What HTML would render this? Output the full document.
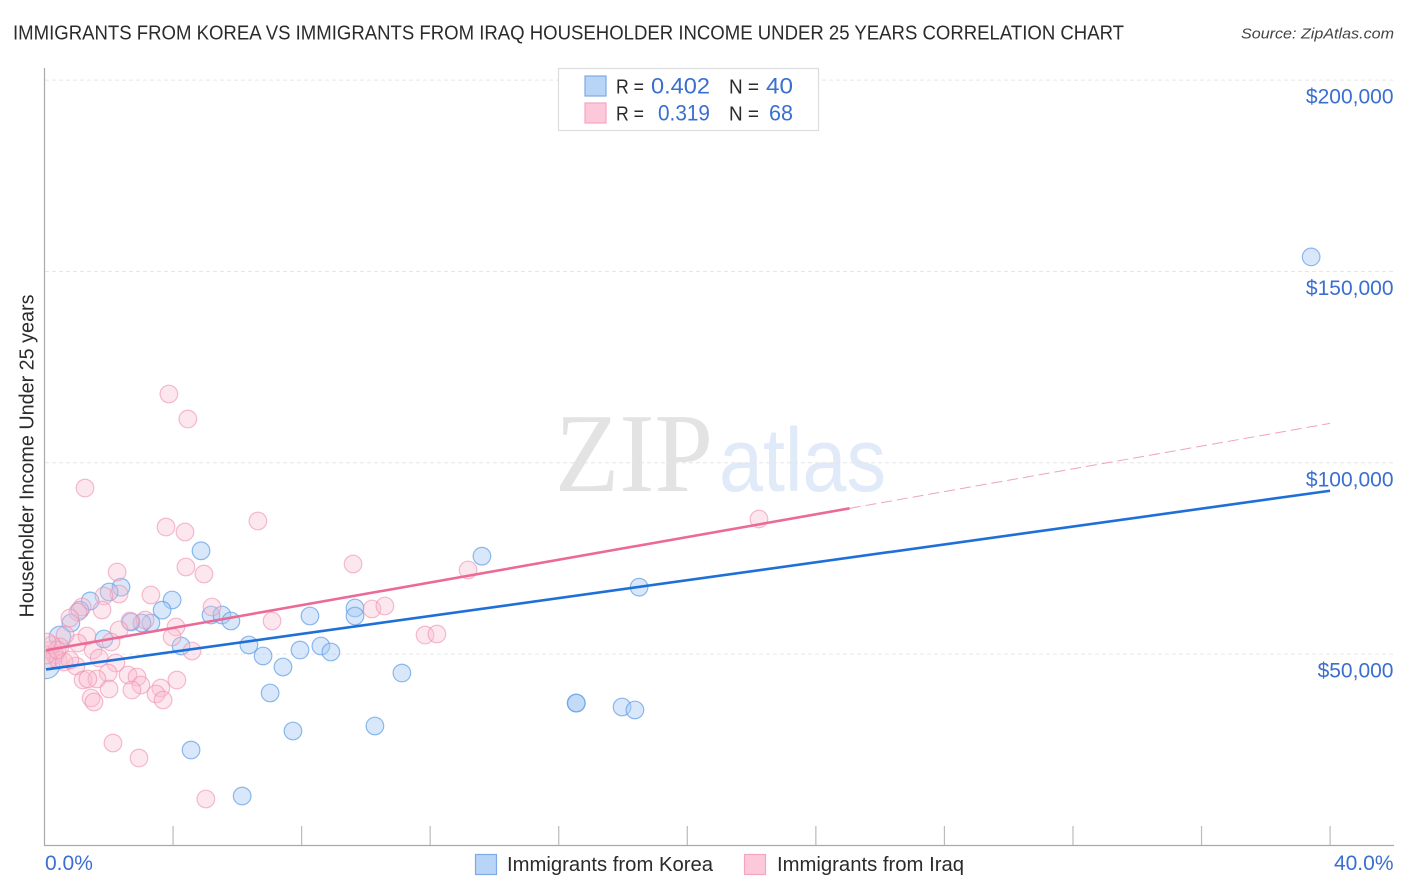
<!DOCTYPE html>
<html lang="en">
<head>
<meta charset="utf-8">
<title>Immigrants from Korea vs Immigrants from Iraq Householder Income Under 25 Years Correlation Chart</title>
<style>
html,body{margin:0;padding:0;background:#fff;width:1406px;height:892px;overflow:hidden}
svg{display:block;font-family:"Liberation Sans",sans-serif}
</style>
</head>
<body>
<svg id="chart" xmlns="http://www.w3.org/2000/svg" width="1406" height="892" viewBox="0 0 1406 892">
<defs><clipPath id="plot-clip"><rect x="45" y="60" width="1350" height="785"/></clipPath></defs>
<rect x="0" y="0" width="1406" height="892" fill="#ffffff"/>
<text x="13" y="39.5" font-size="20" fill="#2b2b2b" textLength="1111" lengthAdjust="spacingAndGlyphs">IMMIGRANTS FROM KOREA VS IMMIGRANTS FROM IRAQ HOUSEHOLDER INCOME UNDER 25 YEARS CORRELATION CHART</text>
<text x="1241" y="38.5" font-size="15" font-style="italic" fill="#444" textLength="153" lengthAdjust="spacingAndGlyphs">Source: ZipAtlas.com</text>
<text x="555" y="491" font-family="'Liberation Serif',serif" font-size="112" fill="#e3e3e3" textLength="158" lengthAdjust="spacingAndGlyphs">ZIP</text>
<text x="719" y="491" font-size="90" fill="#e0eaf8" textLength="167" lengthAdjust="spacingAndGlyphs">atlas</text>
<g id="grid"></g>
<g id="axes"></g>
<g id="marks" clip-path="url(#plot-clip)"></g>
<g id="trends"></g>
<g id="ylabels"></g>
<text transform="translate(33.5,456) rotate(-90)" font-size="20" fill="#2b2b2b" text-anchor="middle" textLength="323" lengthAdjust="spacingAndGlyphs">Householder Income Under 25 years</text>
<text x="45" y="870" font-size="21" fill="#3a6fd0">0.0%</text>
<text x="1393.5" y="870" font-size="21" fill="#3a6fd0" text-anchor="end">40.0%</text>
<g>
<rect x="558.5" y="68.5" width="260" height="62" fill="#ffffff" stroke="#dddddd" stroke-width="1.2"/>
<rect x="585" y="76" width="21" height="20" fill="#b8d4f6" stroke="#7eaae6" stroke-width="1.2"/>
<rect x="585" y="103" width="21" height="20" fill="#fcc8da" stroke="#f4a6c0" stroke-width="1.2"/>
<text x="616" y="93.5" font-size="20" fill="#2b2b2b" textLength="28" lengthAdjust="spacingAndGlyphs">R =</text>
<text x="651" y="93.5" font-size="22" fill="#3a6fd0" textLength="59" lengthAdjust="spacingAndGlyphs">0.402</text>
<text x="729" y="93.5" font-size="20" fill="#2b2b2b" textLength="30" lengthAdjust="spacingAndGlyphs">N =</text>
<text x="766" y="93.5" font-size="22" fill="#3a6fd0" textLength="27" lengthAdjust="spacingAndGlyphs">40</text>
<text x="616" y="120.5" font-size="20" fill="#2b2b2b" textLength="28" lengthAdjust="spacingAndGlyphs">R =</text>
<text x="658" y="120.5" font-size="22" fill="#3a6fd0" textLength="52" lengthAdjust="spacingAndGlyphs">0.319</text>
<text x="729" y="120.5" font-size="20" fill="#2b2b2b" textLength="30" lengthAdjust="spacingAndGlyphs">N =</text>
<text x="769" y="120.5" font-size="22" fill="#3a6fd0" textLength="24" lengthAdjust="spacingAndGlyphs">68</text>
</g>
<g>
<rect x="475.5" y="854.5" width="21" height="20" fill="#b8d4f6" stroke="#7eaae6" stroke-width="1.2"/>
<text x="507" y="871" font-size="20" fill="#2b2b2b" textLength="206" lengthAdjust="spacingAndGlyphs">Immigrants from Korea</text>
<rect x="744.5" y="854.5" width="21" height="20" fill="#fcc8da" stroke="#f4a6c0" stroke-width="1.2"/>
<text x="777" y="871" font-size="20" fill="#2b2b2b" textLength="187" lengthAdjust="spacingAndGlyphs">Immigrants from Iraq</text>
</g>
</svg>
<script>
const yTickValues = [50000, 100000, 150000, 200000];
const yTickLabels = ["$50,000", "$100,000", "$150,000", "$200,000"];
const xTickValues = [0, 4, 8, 12, 16, 20, 24, 28, 32, 36, 40];

const koreaX = [39.41,13.61,4.87,18.50,2.38,2.01,1.42,3.97,3.66,1.10,5.18,5.52,5.80,3.31,3.03,2.69,0.82,8.26,9.66,9.66,1.85,4.25,6.36,6.80,7.95,8.60,8.91,7.42,11.12,7.02,7.73,10.28,4.56,6.15,16.54,16.55,17.97,18.37,0.48,0.05];
const koreaY = [153800,75600,77000,67500,67500,66240,63900,64150,61500,61500,60230,60230,58660,58140,58140,58400,58140,59970,62060,59970,53960,52130,52390,49520,51080,52130,50560,46640,45070,39850,29920,31230,24950,12930,37240,37200,36190,35410,54480,47170];
const koreaWeight = [1,1,1,1,1,1,1,1,1,1,1,1,1,1,1,1,1,1,1,1,1,1,1,1,1,1,1,1,1,1,1,1,1,1,1,1,1,1,1.5,2.4];

const iraqX = [3.87,4.46,1.26,22.23,6.64,3.78,4.37,9.60,4.40,4.96,2.26,13.18,3.31,2.32,1.85,5.21,1.79,1.17,1.04,0.79,7.08,3.13,2.66,4.09,2.32,10.19,10.59,11.84,12.21,3.97,2.07,1.32,1.04,0.64,1.51,4.59,1.70,2.22,0.48,0.98,2.60,1.98,1.20,1.63,1.35,2.88,2.01,3.00,2.72,4.12,3.62,3.47,3.69,1.45,1.54,2.13,2.94,5.02,0.17,0.33,0.11,0.42,0.23,0.61,0.79,0.05,0.39,0.08];
const iraqY = [117980,111440,93410,85310,84790,83220,81920,73560,72770,70940,71470,71990,65460,65720,65190,62320,61540,62320,61010,59450,58660,58920,58660,57090,56310,61800,62580,55000,55260,54480,53170,54740,52910,55000,51080,50820,48990,47690,51870,46900,44550,45070,43240,43510,43510,44030,40890,41940,40630,43240,41150,39590,38020,38540,37500,26780,22860,12150,51080,49780,48470,48470,52390,47950,48470,49780,51080,53170];

const koreaTrendX = [0.05, 40];
const koreaTrendY = [46000, 92700];
const iraqTrendX = [0.05, 25.05];
const iraqTrendY = [51000, 88100];
const iraqDashX = [25.05, 40];
const iraqDashY = [88100, 110300];

const SVGNS = "http://www.w3.org/2000/svg";
const xScale = v => 44.5 + v * 32.14;
const yScale = v => 845.5 - v * 191.35 / 50000;
const make = (tag, parent) => { const e = document.createElementNS(SVGNS, tag); document.getElementById(parent).appendChild(e); return e; };

yTickValues.forEach((v, i) => {
  const g = make("line", "grid");
  
  
  g.setAttribute("x1", 45); g.setAttribute("x2", 1394);
  g.setAttribute("y1", yScale(v)); g.setAttribute("y2", yScale(v));
  g.setAttribute("stroke", "#e6e6e6"); g.setAttribute("stroke-width", 1);
  g.setAttribute("stroke-dasharray", "4 3");
  const t = make("text", "ylabels");
  
  
  t.setAttribute("x", 1393.5); t.setAttribute("y", yScale(v) + 23.5);
  t.setAttribute("font-size", 21); t.setAttribute("fill", "#3a6fd0");
  t.setAttribute("text-anchor", "end");
  t.textContent = yTickLabels[i];
});

const yAxis = make("line", "axes");


yAxis.setAttribute("x1", 44.5); yAxis.setAttribute("x2", 44.5);
yAxis.setAttribute("y1", 68); yAxis.setAttribute("y2", 846);
yAxis.setAttribute("stroke", "#aaaaaa"); yAxis.setAttribute("stroke-width", 1.2);

const xAxis = make("line", "axes");


xAxis.setAttribute("x1", 44); xAxis.setAttribute("x2", 1394);
xAxis.setAttribute("y1", 845.5); xAxis.setAttribute("y2", 845.5);
xAxis.setAttribute("stroke", "#aaaaaa"); xAxis.setAttribute("stroke-width", 1.2);

xTickValues.forEach(v => {
  if (v === 0) return;
  const l = make("line", "axes");
  
  
  l.setAttribute("x1", xScale(v)); l.setAttribute("x2", xScale(v));
  l.setAttribute("y1", 826); l.setAttribute("y2", 845);
  l.setAttribute("stroke", "#bbbbbb"); l.setAttribute("stroke-width", 1.2);
});

koreaX.forEach((v, i) => {
  const c = make("circle", "marks");
  
  
  c.setAttribute("cx", xScale(v)); c.setAttribute("cy", yScale(koreaY[i]));
  c.setAttribute("r", 8.8 * Math.sqrt(koreaWeight[i]));
  c.setAttribute("fill", "#a9cbf4"); c.setAttribute("fill-opacity", 0.45);
  c.setAttribute("stroke", "#5f9de6"); c.setAttribute("stroke-opacity", 0.7); c.setAttribute("stroke-width", 1.2);
});

iraqX.forEach((v, i) => {
  const c = make("circle", "marks");
  
  
  c.setAttribute("cx", xScale(v)); c.setAttribute("cy", yScale(iraqY[i]));
  c.setAttribute("r", 8.8);
  c.setAttribute("fill", "#f9bdd0"); c.setAttribute("fill-opacity", 0.36);
  c.setAttribute("stroke", "#ee8fae"); c.setAttribute("stroke-opacity", 0.6); c.setAttribute("stroke-width", 1.2);
});

const koreaTrend = make("line", "trends");


koreaTrend.setAttribute("x1", xScale(koreaTrendX[0])); koreaTrend.setAttribute("y1", yScale(koreaTrendY[0]));
koreaTrend.setAttribute("x2", xScale(koreaTrendX[1])); koreaTrend.setAttribute("y2", yScale(koreaTrendY[1]));
koreaTrend.setAttribute("stroke", "#1f6fd8"); koreaTrend.setAttribute("stroke-width", 2.6);

const iraqTrend = make("line", "trends");


iraqTrend.setAttribute("x1", xScale(iraqTrendX[0])); iraqTrend.setAttribute("y1", yScale(iraqTrendY[0]));
iraqTrend.setAttribute("x2", xScale(iraqTrendX[1])); iraqTrend.setAttribute("y2", yScale(iraqTrendY[1]));
iraqTrend.setAttribute("stroke", "#ec6a97"); iraqTrend.setAttribute("stroke-width", 2.6);

const iraqDash = make("line", "trends");


iraqDash.setAttribute("x1", xScale(iraqDashX[0])); iraqDash.setAttribute("y1", yScale(iraqDashY[0]));
iraqDash.setAttribute("x2", xScale(iraqDashX[1])); iraqDash.setAttribute("y2", yScale(iraqDashY[1]));
iraqDash.setAttribute("stroke", "#f0a3bd"); iraqDash.setAttribute("stroke-width", 1);
iraqDash.setAttribute("stroke-dasharray", "11 5");
</script>
</body>
</html>
